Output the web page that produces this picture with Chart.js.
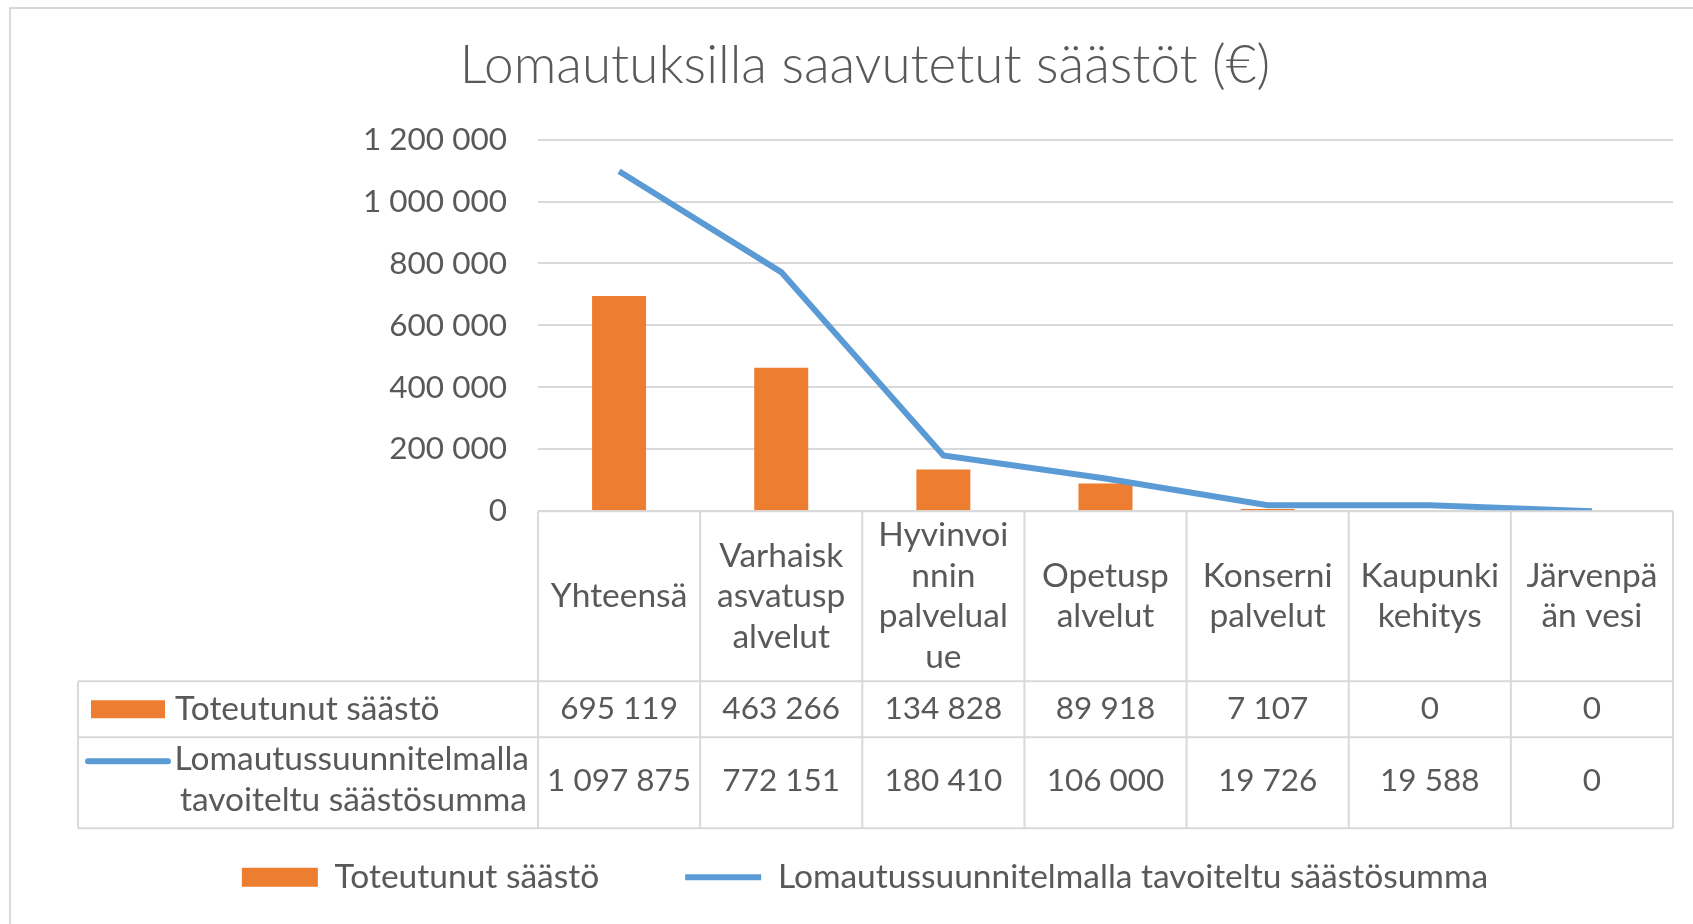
<!DOCTYPE html>
<html>
<head>
<meta charset="utf-8">
<script src="https://cdn.jsdelivr.net/npm/chart.js@4.4.1/dist/chart.umd.min.js"></script>
<style>
  html, body { margin: 0; padding: 0; background: #fff; }
  #wrap { width: 1693px; height: 924px; position: relative; }
</style>
</head>
<body>
<div id="wrap"><canvas id="chart"></canvas></div>
<script>
// --- data ---
const categories = [
  'Yhteensä',
  ['Varhaisk', 'asvatusp', 'alvelut'],
  ['Hyvinvoi', 'nnin', 'palvelual', 'ue'],
  ['Opetusp', 'alvelut'],
  ['Konserni', 'palvelut'],
  ['Kaupunki', 'kehitys'],
  ['Järvenpä', 'än vesi']
];
const toteutunut = [695119, 463266, 134828, 89918, 7107, 0, 0];
const tavoite = [1097875, 772151, 180410, 106000, 19726, 19588, 0];
const labelToteutunut = 'Toteutunut säästö';
const labelTavoite = 'Lomautussuunnitelmalla tavoiteltu säästösumma';
const labelTavoiteRows = ['Lomautussuunnitelmalla', 'tavoiteltu säästösumma'];
const yMax = 1200000;
const yStep = 200000;

const TEXT = '#595959';
const LINE = '#D9D9D9';
const ORANGE = '#ED7D31';
const BLUE = '#5B9BD5';
const FONT = 'Lato, "Noto Sans", sans-serif';
const NUM_SIZE = 31.5;   // numerot
const TXT_SIZE = 33.5;   // tekstit
const LEGEND_PAD = 86;   // selitteiden väli

// jakaa tuhannet välilyönnillä
function fmt(v) {
    return String(v).replace(/\B(?=(\d{3})+(?!\d))/g, ' ');
}

// kehys + valkoinen tausta
const frame = {
    id: 'frame',
    beforeDraw(chart) {
        const ctx = chart.ctx;
        ctx.save();
        ctx.fillStyle = '#fff';
        ctx.fillRect(0, 0, chart.width, chart.height);
        ctx.strokeStyle = LINE;
        ctx.lineWidth = 2;
        ctx.strokeRect(10, 8, chart.width + 20, chart.height + 20);
        ctx.restore();
    }
};

// Excelin tyylinen datataulukko x-akselin alle
const HEAD_H = 170, ROW1_H = 56, ROW2_H = 91, TABLE_LEFT = 78;
const dataTable = {
    id: 'dataTable',
    afterDraw(chart) {
        const ctx = chart.ctx;
        const xs = chart.scales.x;
        const { left, right, bottom } = chart.chartArea;
        const colW = (right - left) / categories.length;
        const y0 = bottom, y1 = y0 + HEAD_H, y2 = y1 + ROW1_H, y3 = y2 + ROW2_H;

        ctx.save();
        ctx.strokeStyle = LINE;
        ctx.lineWidth = 2;
        ctx.beginPath();
        // vaakaviivat
        ctx.moveTo(left, y0); ctx.lineTo(right, y0);
        ctx.moveTo(TABLE_LEFT, y1); ctx.lineTo(right, y1);
        ctx.moveTo(TABLE_LEFT, y2); ctx.lineTo(right, y2);
        ctx.moveTo(TABLE_LEFT, y3); ctx.lineTo(right, y3);
        // pystyviivat
        ctx.moveTo(TABLE_LEFT, y1); ctx.lineTo(TABLE_LEFT, y3);
        for (let i = 0; i <= categories.length; i++) {
            const x = left + i * colW;
            ctx.moveTo(x, y0); ctx.lineTo(x, y3);
        }
        ctx.stroke();

        ctx.fillStyle = TEXT;
        ctx.textAlign = 'center';
        ctx.textBaseline = 'middle';
        const lh = 40.5;
        categories.forEach((c, i) => {
            const cx = xs.getPixelForValue(i);
            const lines = Array.isArray(c) ? c : [c];
            const mid = (y0 + y1) / 2;
            ctx.font = TXT_SIZE + 'px ' + FONT;
            lines.forEach((t, k) => {
                ctx.fillText(t, cx, mid + (k - (lines.length - 1) / 2) * lh);
            });
            ctx.font = NUM_SIZE + 'px ' + FONT;
            ctx.fillText(fmt(toteutunut[i]), cx, (y1 + y2) / 2);
            ctx.fillText(fmt(tavoite[i]), cx, (y2 + y3) / 2 - 2);
        });

        // selitteet taulukon vasemmassa sarakkeessa
        ctx.font = TXT_SIZE + 'px ' + FONT;
        const r1 = (y1 + y2) / 2;
        ctx.fillStyle = ORANGE;
        ctx.fillRect(91, r1 - 9, 74, 18);
        ctx.fillStyle = TEXT;
        ctx.textAlign = 'left';
        ctx.fillText(labelToteutunut, 175, r1);

        ctx.strokeStyle = BLUE;
        ctx.lineWidth = 6;
        ctx.lineCap = 'round';
        ctx.beginPath();
        ctx.moveTo(88, y2 + 24); ctx.lineTo(168, y2 + 24);
        ctx.stroke();
        ctx.textAlign = 'right';
        ctx.fillText(labelTavoiteRows[0], 529, y2 + 22);
        ctx.fillText(labelTavoiteRows[1], 527, y2 + 63);
        ctx.restore();
    }
};

const chart = new Chart(document.getElementById('chart'), {
    type: 'bar',
    data: {
        labels: categories,
        datasets: [
            {
                type: 'bar',
                label: labelToteutunut,
                data: toteutunut,
                backgroundColor: ORANGE,
                borderWidth: 0,
                barPercentage: 0.333,
                categoryPercentage: 1,
                pointStyle: 'rect',
                order: 1
            },
            {
                type: 'line',
                label: labelTavoite,
                data: tavoite,
                borderColor: BLUE,
                backgroundColor: BLUE,
                borderWidth: 6,
                pointRadius: 0,
                tension: 0,
                pointStyle: 'line',
                order: 0
            }
        ]
    },
    options: {
        responsive: true,
        maintainAspectRatio: false,
        animation: false,
        devicePixelRatio: 1,
        layout: { padding: { left: 57, right: 20, top: 0, bottom: 20 } },
        plugins: {
            title: {
                display: true,
                text: 'Lomautuksilla saavutetut säästöt (€)',
                color: TEXT,
                font: { family: FONT, size: 53, weight: '300' },
                padding: { top: 34, bottom: 42 }
            },
            legend: {
                position: 'bottom',
                labels: {
                    color: TEXT,
                    font: { family: FONT, size: TXT_SIZE },
                    usePointStyle: true,
                    pointStyleWidth: 76,
                    boxHeight: 19,
                    padding: LEGEND_PAD,
                    sort: (a, b) => a.datasetIndex - b.datasetIndex
                }
            },
            tooltip: { enabled: false }
        },
        scales: {
            x: {
                grid: { display: false },
                border: { display: false },
                ticks: { display: false },
                // taulukko piirretään tähän tilaan
                afterFit(scale) { scale.height = 349.25 - LEGEND_PAD; }
            },
            y: {
                min: 0,
                max: yMax,
                grid: { color: LINE, lineWidth: 2, drawTicks: false },
                border: { display: false },
                ticks: {
                    stepSize: yStep,
                    color: TEXT,
                    font: { family: FONT, size: NUM_SIZE },
                    padding: 31,
                    callback: v => fmt(v)
                },
                afterFit(scale) { scale.width = 538 - 57; }
            }
        }
    },
    plugins: [frame, dataTable]
});
</script>
</body>
</html>
